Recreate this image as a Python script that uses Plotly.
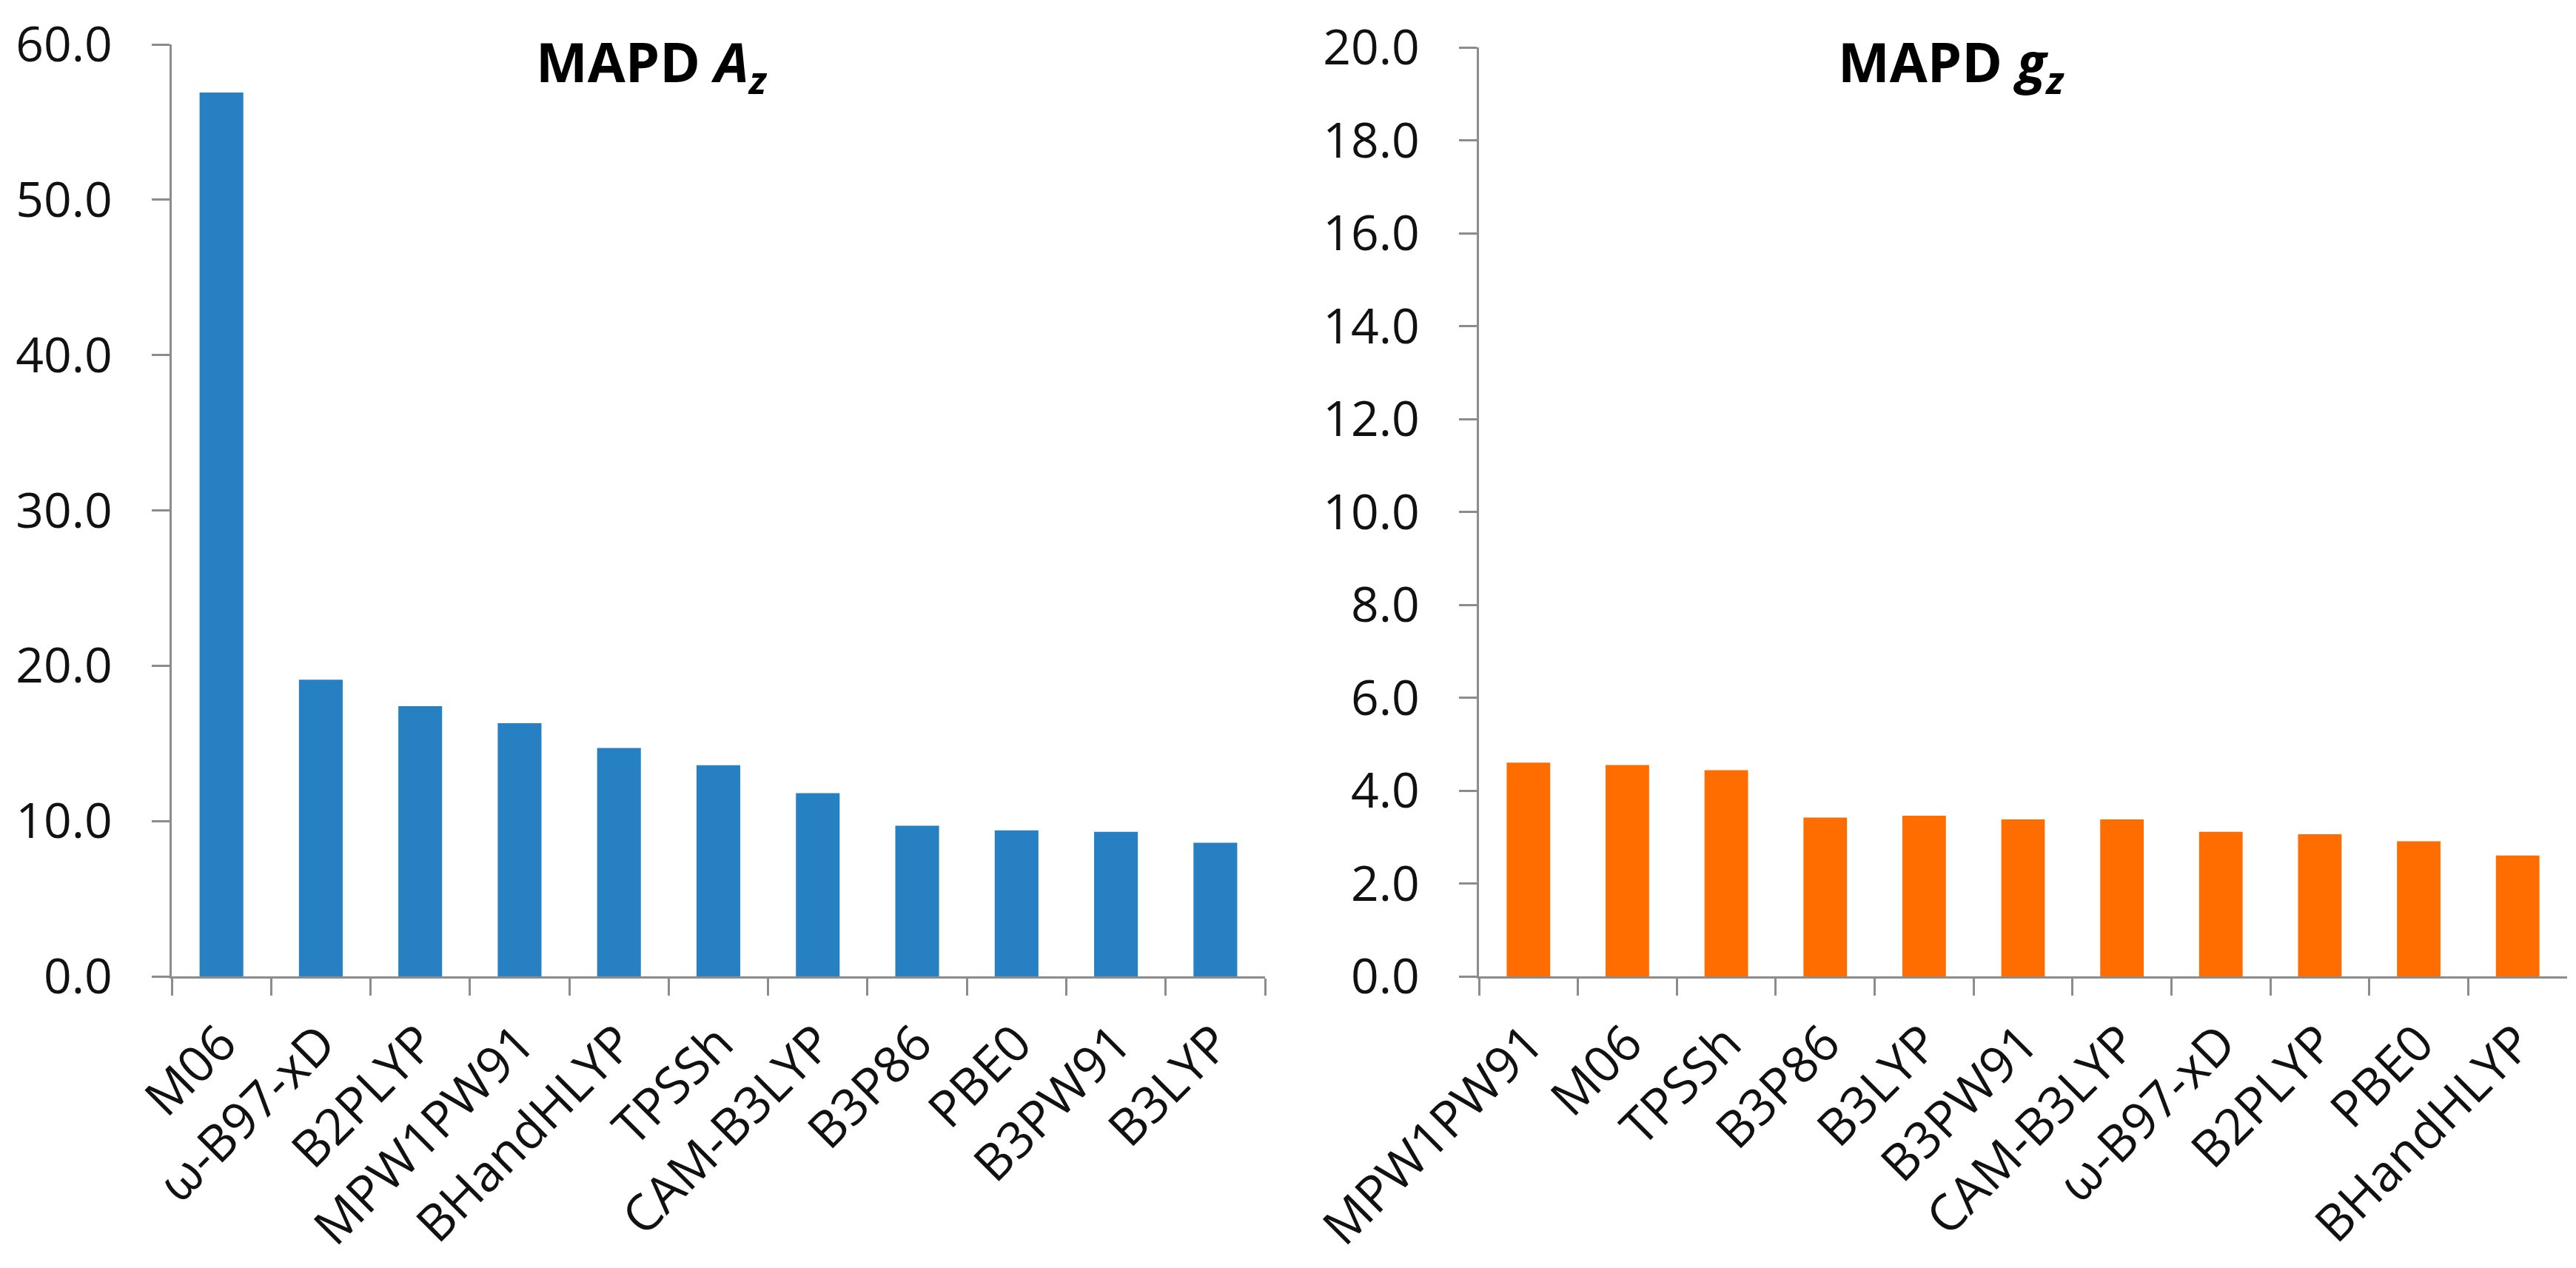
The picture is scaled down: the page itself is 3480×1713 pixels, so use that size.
import plotly.graph_objects as go

# ---- data ----
az_methods = ["M06", "ω-B97-xD", "B2PLYP", "MPW1PW91", "BHandHLYP", "TPSSh",
              "CAM-B3LYP", "B3P86", "PBE0", "B3PW91", "B3LYP"]
az_values = [56.9, 19.1, 17.4, 16.3, 14.7, 13.6, 11.8, 9.7, 9.4, 9.3, 8.6]

gz_methods = ["MPW1PW91", "M06", "TPSSh", "B3P86", "B3LYP", "B3PW91",
              "CAM-B3LYP", "ω-B97-xD", "B2PLYP", "PBE0", "BHandHLYP"]
gz_values = [4.60, 4.55, 4.44, 3.42, 3.46, 3.38, 3.38, 3.11, 3.06, 2.91, 2.60]

az_ticks = [0, 10, 20, 30, 40, 50, 60]
gz_ticks = [0, 2, 4, 6, 8, 10, 12, 14, 16, 18, 20]

W, H = 3480, 1713
BLUE = "#2680C2"
ORANGE = "#FF6D00"
GRAY = "#8C8C8C"
TICKFONT = dict(family="Open Sans", size=66, color="#111111")
XFONT = dict(family="Open Sans", size=68, color="#111111")
TITLEFONT = dict(family="Open Sans", size=74, color="black")

fig = go.Figure()
fig.add_trace(go.Bar(x=az_methods, y=az_values, marker=dict(color=BLUE, line=dict(width=0)),
                     xaxis="x", yaxis="y", showlegend=False))
fig.add_trace(go.Bar(x=gz_methods, y=gz_values, marker=dict(color=ORANGE, line=dict(width=0)),
                     xaxis="x2", yaxis="y2", showlegend=False))

ybot = 1 - 1311 / H

def xaxis_cfg(domain, anchor):
    return dict(domain=domain, anchor=anchor, type="category",
                showline=True, linecolor=GRAY, linewidth=3,
                ticks="outside", tickson="boundaries", ticklen=23, tickwidth=3,
                tickcolor=GRAY, tickangle=-45, tickfont=XFONT,
                ticklabelstandoff=20, showgrid=False, automargin=False,
                fixedrange=True)

def yaxis_cfg(domain, anchor, rng, ticks):
    return dict(domain=domain, anchor=anchor, range=rng,
                tickvals=ticks, ticktext=[f"{t:.1f}" for t in ticks],
                showline=True, linecolor=GRAY, linewidth=3,
                ticks="outside", ticklen=24, tickwidth=3, tickcolor=GRAY,
                tickfont=TICKFONT, ticklabelstandoff=40,
                showgrid=False, zeroline=False, automargin=False)

fig.update_layout(
    width=W, height=H,
    margin=dict(l=0, r=0, t=0, b=0),
    paper_bgcolor="white", plot_bgcolor="white",
    bargap=0.56,
    xaxis=xaxis_cfg([224 / W, 1701 / W], "y"),
    yaxis=yaxis_cfg([ybot, 1 - 52 / H], "x", [0, 60], az_ticks),
    xaxis2=xaxis_cfg([1990 / W, 3460 / W], "y2"),
    yaxis2=yaxis_cfg([ybot, 1 - 56 / H], "x2", [0, 20], gz_ticks),
    annotations=[
        dict(text="<b>MAPD <i>A</i><sub><i>z</i></sub></b>", x=873 / W, y=1 - 22 / H,
             xref="paper", yref="paper", xanchor="center", yanchor="top", showarrow=False,
             font=TITLEFONT),
        dict(text="<b>MAPD <i>g</i><sub><i>z</i></sub></b>", x=2628 / W, y=1 - 22 / H,
             xref="paper", yref="paper", xanchor="center", yanchor="top", showarrow=False,
             font=TITLEFONT),
    ],
)

fig.write_html("out.html")
